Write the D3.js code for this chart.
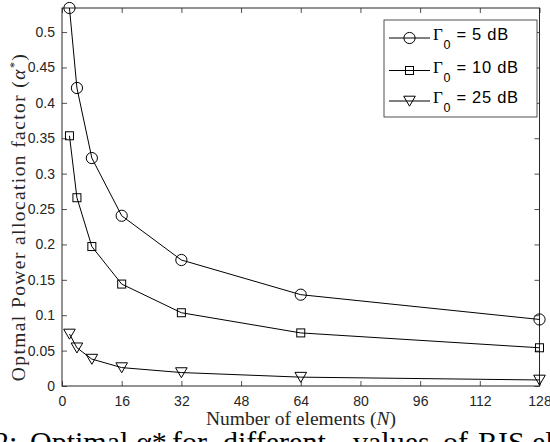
<!DOCTYPE html>
<html lang="en">
<head>
<meta charset="UTF-8">
<title>Optimal power allocation factor</title>
<style>
  body { margin: 0; background: #ffffff; overflow: hidden; }
  svg { display: block; }
  .tick text { font-family: "Liberation Sans", Arial, sans-serif; font-size: 14px; fill: #262626; }
  .tick line { stroke: #262626; stroke-width: 0.8px; }
  .domain { display: none; }
  .series-line { fill: none; stroke: #000; stroke-width: 1px; }
  .marker { fill: none; stroke: #000; stroke-width: 1px; }
  .axis-label { font-family: "Liberation Serif", "Times New Roman", serif; font-size: 19.5px; fill: #262626; }
  .legend-text { font-family: "Liberation Sans", Arial, sans-serif; font-size: 16.5px; fill: #000; letter-spacing: 0.7px; }
</style>
</head>
<body>
<script src="https://d3js.org/d3.v7.min.js"></script>
<script>
// number of RIS elements
const elements = [2, 4, 8, 16, 32, 64, 128];
// optimal power allocation factor for each Gamma_0
const alpha5dB  = [0.534, 0.421, 0.322, 0.2405, 0.178, 0.129, 0.094];
const alpha10dB = [0.3535, 0.266, 0.197, 0.144, 0.1035, 0.075, 0.054];
const alpha25dB = [0.0735, 0.054, 0.038, 0.026, 0.019, 0.0125, 0.0085];
const seriesNames = ["5 dB", "10 dB", "25 dB"];
const seriesMarkers = ["circle", "square", "triangle"];
const xTicks = [0, 16, 32, 48, 64, 80, 96, 112, 128];
const yTicks = [0, 0.05, 0.1, 0.15, 0.2, 0.25, 0.3, 0.35, 0.4, 0.45, 0.5];
const yTickLabels = ["0", "0.05", "0.1", "0.15", "0.2", "0.25", "0.3", "0.35", "0.4", "0.45", "0.5"];
// caption words of the page below the figure (cut by the crop)
const captionWords = ["2:", "Optimal", "α*", "for", "different", "values", "of", "RIS", "elements"];
const captionX = [-6, 30, 136, 172, 223, 353, 443, 478, 532];

const W = 550, H = 442;
const plot = { left: 62, right: 539.5, top: 8, bottom: 386 };

const svg = d3.select("body").append("svg")
    .attr("width", W)
    .attr("height", H);

const allSeries = [alpha5dB, alpha10dB, alpha25dB];

const x = d3.scaleLinear().domain([0, 128]).range([plot.left, plot.right]);
const y = d3.scaleLinear()
    .domain([0, d3.max(allSeries, s => d3.max(s))])
    .range([plot.bottom, plot.top]);

// axes with inward ticks (MATLAB look)
svg.append("g")
    .attr("transform", `translate(0,${plot.bottom})`)
    .call(d3.axisBottom(x).tickValues(xTicks).tickSizeInner(-5).tickSizeOuter(0).tickPadding(10));
svg.append("g")
    .attr("transform", `translate(0,${plot.top})`)
    .call(d3.axisTop(x).tickValues(xTicks).tickSizeInner(-5).tickSizeOuter(0).tickFormat(""));
svg.append("g")
    .attr("transform", `translate(${plot.left},0)`)
    .call(d3.axisLeft(y).tickValues(yTicks).tickSizeInner(-5).tickSizeOuter(0).tickPadding(7)
        .tickFormat((d, i) => yTickLabels[i]));
svg.append("g")
    .attr("transform", `translate(${plot.right},0)`)
    .call(d3.axisRight(y).tickValues(yTicks).tickSizeInner(-5).tickSizeOuter(0).tickFormat(""));

// box
svg.append("rect")
    .attr("x", plot.left).attr("y", plot.top)
    .attr("width", plot.right - plot.left).attr("height", plot.bottom - plot.top)
    .attr("fill", "none").attr("stroke", "#262626").attr("stroke-width", 1);

function drawMarker(g, type, cx, cy) {
    if (type === "circle") {
        g.append("circle").attr("class", "marker").attr("cx", cx).attr("cy", cy).attr("r", 5.6);
    } else if (type === "square") {
        g.append("rect").attr("class", "marker").attr("x", cx - 4).attr("y", cy - 4)
            .attr("width", 8).attr("height", 8);
    } else {
        g.append("path").attr("class", "marker")
            .attr("d", `M${cx - 5.8},${cy - 4.8}L${cx + 5.8},${cy - 4.8}L${cx},${cy + 5.2}Z`);
    }
}

const line = d3.line().x(d => x(d[0])).y(d => y(d[1]));

allSeries.forEach((vals, si) => {
    const pts = elements.map((n, i) => [n, vals[i]]);
    const g = svg.append("g");
    g.append("path").attr("class", "series-line").attr("d", line(pts));
    pts.forEach(p => drawMarker(g, seriesMarkers[si], x(p[0]), y(p[1])));
});

// legend
const legend = svg.append("g");
legend.append("rect")
    .attr("x", 384).attr("y", 20).attr("width", 153).attr("height", 97)
    .attr("fill", "#fff").attr("stroke", "#262626").attr("stroke-width", 0.8);
const legendY = [38, 70.5, 101];
seriesNames.forEach((name, i) => {
    const ly = legendY[i];
    legend.append("line").attr("x1", 389).attr("x2", 430).attr("y1", ly).attr("y2", ly)
        .attr("stroke", "#000").attr("stroke-width", 1);
    drawMarker(legend, seriesMarkers[i], 409.5, ly);
    const t = legend.append("text").attr("class", "legend-text").attr("x", 433).attr("y", ly + 2);
    t.append("tspan").attr("font-family", "Liberation Serif, serif").attr("font-size", "17px").text("Γ");
    t.append("tspan").attr("font-size", "12.5px").attr("dy", 9).text("0");
    t.append("tspan").attr("dy", -9).text(" = " + name);
});

// axis labels
const xl = svg.append("text").attr("class", "axis-label")
    .attr("x", 301).attr("y", 425).attr("text-anchor", "middle");
xl.append("tspan").text("Number of elements (");
xl.append("tspan").attr("font-style", "italic").text("N");
xl.append("tspan").text(")");

const yl = svg.append("text").attr("class", "axis-label")
    .attr("letter-spacing", "1.4px")
    .attr("transform", "translate(25,217) rotate(-90)").attr("text-anchor", "middle");
yl.append("tspan").text("Optmal Power allocation factor (");
yl.append("tspan").attr("font-style", "italic").text("α");
yl.append("tspan").attr("font-size", "12px").attr("dy", -7).text("*");
yl.append("tspan").attr("dy", 7).text(")");

// caption, cut off by the bottom edge
const cap = svg.append("text")
    .attr("y", 452)
    .attr("font-family", "Liberation Serif, serif").attr("font-size", "30px").attr("fill", "#000");
captionWords.forEach((w, i) => cap.append("tspan").attr("x", captionX[i]).text(w));
</script>
</body>
</html>
